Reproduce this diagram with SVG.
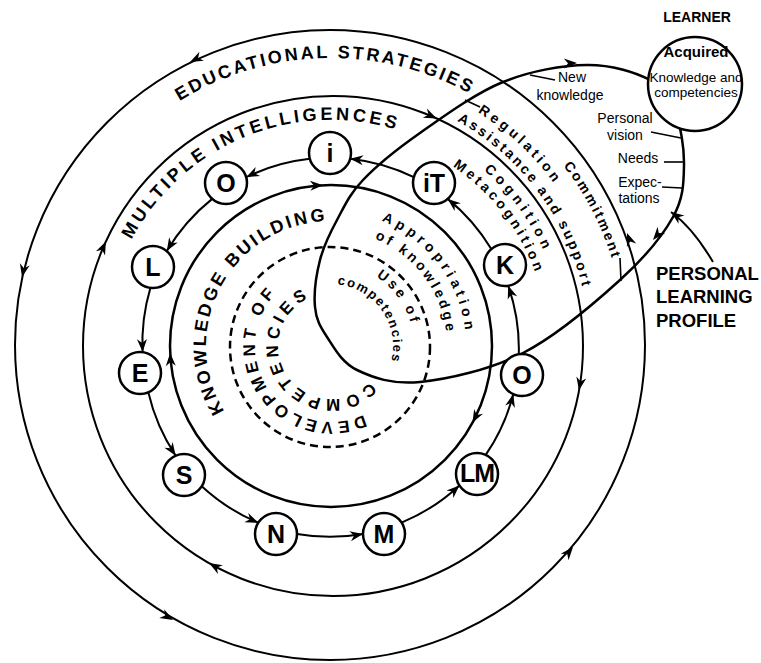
<svg xmlns="http://www.w3.org/2000/svg" xmlns:xlink="http://www.w3.org/1999/xlink" width="761" height="663" viewBox="0 0 761 663">
<style>
.ln{fill:none;stroke:#000;stroke-width:2}
.el{fill:none;stroke:#000;stroke-width:2.5}
.ds{fill:none;stroke:#000;stroke-width:2.5;stroke-dasharray:8 5}
.cn{fill:none;stroke:#000;stroke-width:2;marker-end:url(#m)}
.ld{fill:none;stroke:#000;stroke-width:1.6}
.nd{fill:#fff;stroke:#000;stroke-width:2.5}
.nl{font-family:"Liberation Sans",Arial,sans-serif;font-weight:bold;font-size:25px;text-anchor:middle}
.t{font-family:"Liberation Sans",Arial,sans-serif;fill:#000}
.b{font-weight:bold}
.big{font-size:18px;font-weight:bold}
.mid{font-size:14px;font-weight:bold}
.sm{font-size:14px}
.lc{font-size:13.5px}
.c{text-anchor:middle}
</style>
<defs>
<path id="ah" d="M0,0 L-13,-5 L-9,0 L-13,5 Z"/>
<marker id="m" viewBox="-14 -6 15 12" refX="0" refY="0" markerWidth="15" markerHeight="12" markerUnits="userSpaceOnUse" orient="auto"><path d="M0,0 L-13,-5 L-9,0 L-13,5 Z"/></marker>
<path id="r288" d="M187,595.4 A288,288 0 1 1 475,595.4"/>
<path id="r226" d="M218,541.7 A226,226 0 1 1 444,541.7"/>
<path id="r125" d="M268.5,454.25 A125,125 0 1 1 393.5,454.25"/>
<path id="r76" d="M293,411.8 A76,76 0 1 1 369,411.8"/>
<path id="r53" d="M304.5,391.9 A53,53 0 1 1 357.5,391.9"/>
<path id="r135" d="M263.5,462.9 A135,135 0 1 1 398.5,462.9"/>
<path id="r116" d="M273,446.5 A116,116 0 1 1 389,446.5"/>
<path id="r83" d="M289.5,417.9 A83,83 0 1 1 372.5,417.9"/>
<path id="r62" d="M300,399.7 A62,62 0 1 1 362,399.7"/>
<path id="r276" d="M193,585 A276,276 0 1 1 469,585"/>
<path id="r258" d="M202,569.4 A258,258 0 1 1 460,569.4"/>
<path id="r233" d="M214.5,547.8 A233,233 0 1 1 447.5,547.8"/>
<path id="r217" d="M222.5,533.9 A217,217 0 1 1 439.5,533.9"/>
<path id="r294" d="M184,600.6 A294,294 0 1 1 478,600.6"/>
</defs>
<rect width="761" height="663" fill="#fff"/>

<g id="rings">
<circle id="educational-strategies-ring" class="ln" cx="330" cy="345" r="315"/>
<circle id="multiple-intelligences-ring" class="ln" cx="333" cy="346" r="250"/>
<circle id="knowledge-building-ring" class="el" cx="331" cy="346" r="161"/>
<circle id="competencies-ring" class="ds" cx="330" cy="347" r="100"/>
<path id="personal-learning-profile" class="el" d="M315,307 C313.8,294.2 316.3,274.5 320,260 C323.7,245.5 329.8,233.3 337,220 C344.2,206.7 349.2,194.5 363,180 C376.8,165.5 396.7,149.3 420,133 C443.3,116.7 475.2,93.3 503,82 C530.8,70.7 562.5,65.3 587,65 C611.5,64.7 635.3,72.2 650,80 C664.7,87.8 669.3,97.8 675,112 C680.7,126.2 684.3,147.5 684,165 C683.7,182.5 683.7,197.8 673,217 C662.3,236.2 645,257.3 620,280 C595,302.7 556.3,336 523,353 C489.7,370 447.7,379.2 420,382 C392.3,384.8 372.5,377.5 357,370 C341.5,362.5 334,347.5 327,337 C320,326.5 316.2,319.8 315,307 Z"/>
<use href="#ah" transform="translate(190,62) rotate(153.7)"/>
<use href="#ah" transform="translate(22,277) rotate(102.5)"/>
<use href="#ah" transform="translate(173,620) rotate(29.7)"/>
<use href="#ah" transform="translate(573,547) rotate(-50.3)"/>
<use href="#ah" transform="translate(627,233) rotate(-110.7)"/>
<use href="#ah" transform="translate(105.9,241.5) rotate(-65.3)"/>
<use href="#ah" transform="translate(209.1,563.1) rotate(209.7)"/>
<use href="#ah" transform="translate(579,390.3) rotate(100.2)"/>
<use href="#ah" transform="translate(436.7,118.5) rotate(24.5)"/>
<use href="#ah" transform="translate(323.1,185.2) rotate(-2.8)"/>
<use href="#ah" transform="translate(170.2,353) rotate(267.5)"/>
<use href="#ah" transform="translate(472.4,422.8) rotate(118.5)"/>
<use href="#ah" transform="translate(577,63) rotate(-2)"/>
<use href="#ah" transform="translate(653,240) rotate(130)"/>
</g>

<g id="connectors">
<path class="cn" d="M413.8,177.2 A193,193 0 0 0 350.2,158.8"/>
<path class="cn" d="M309.8,158.8 A193,193 0 0 0 246.2,177.2"/>
<path class="cn" d="M212.2,198.9 A193,193 0 0 0 166.8,251.1"/>
<path class="cn" d="M150.4,287.9 A193,193 0 0 0 142.6,352.1"/>
<path class="cn" d="M148.3,392.3 A193,193 0 0 0 175.7,455.7"/>
<path class="cn" d="M201.7,486.3 A193,193 0 0 0 258.3,522.7"/>
<path class="cn" d="M297,534 A193,193 0 0 0 363,534"/>
<path class="cn" d="M401.6,522.6 A193,193 0 0 0 459.4,485.4"/>
<path class="cn" d="M485.7,454.9 A193,193 0 0 0 513.3,394.1"/>
<path class="cn" d="M518.8,354.3 A193,193 0 0 0 508.2,285.7"/>
<path class="cn" d="M491.3,249.1 A193,193 0 0 0 447.7,198.9"/>
<path class="cn" d="M713,262 Q693,228 671,212"/>
<path class="ld" d="M530,75 L555,80"/>
<path class="ld" d="M465,100 L480,107"/>
<path class="ld" d="M651,132 L681,138"/>
<path class="ld" d="M664,162 L684,162"/>
<path class="ld" d="M662,187 L682,188"/>
<path class="ld" d="M620,258 L621,281"/>
</g>

<g id="ring-labels" class="t">
<text class="big" letter-spacing="2.6" transform="rotate(-1.3,331,346)"><textPath href="#r288" startOffset="50%" text-anchor="middle">EDUCATIONAL STRATEGIES</textPath></text>
<text class="big" letter-spacing="3.4" transform="rotate(-22.3,331,346)"><textPath href="#r226" startOffset="50%" text-anchor="middle">MULTIPLE INTELLIGENCES</textPath></text>
<text class="big" letter-spacing="2.8" transform="rotate(-61.5,331,346)"><textPath href="#r125" startOffset="50%" text-anchor="middle">KNOWLEDGE BUILDING</textPath></text>
<text class="b" font-size="17" letter-spacing="4" transform="rotate(-125,331,346)"><textPath href="#r76" startOffset="50%" text-anchor="middle">DEVELOPMENT OF</textPath></text>
<text class="b" font-size="17" letter-spacing="4.5" transform="rotate(-124.5,331,346)"><textPath href="#r53" startOffset="50%" text-anchor="middle">COMPETENCIES</textPath></text>
<text class="mid" letter-spacing="4.3" transform="rotate(53.5,331,346)"><textPath href="#r135" startOffset="50%" text-anchor="middle">Appropriation</textPath></text>
<text class="mid" letter-spacing="3" transform="rotate(53.2,331,346)"><textPath href="#r116" startOffset="50%" text-anchor="middle">of knowledge</textPath></text>
<text class="mid" letter-spacing="3.2" transform="rotate(54.5,331,346)"><textPath href="#r83" startOffset="50%" text-anchor="middle">Use of</textPath></text>
<text class="b" font-size="13" letter-spacing="1.7" transform="rotate(55.5,331,346)"><textPath href="#r62" startOffset="50%" text-anchor="middle">competencies</textPath></text>
<text class="mid" letter-spacing="3.5" transform="rotate(43.25,331,346)"><textPath href="#r276" startOffset="50%" text-anchor="middle">Regulation</textPath></text>
<text class="mid" letter-spacing="2.6" transform="rotate(53.25,331,346)"><textPath href="#r258" startOffset="50%" text-anchor="middle">Assistance and support</textPath></text>
<text class="mid" letter-spacing="4.3" transform="rotate(53.75,331,346)"><textPath href="#r233" startOffset="50%" text-anchor="middle">Cognition</textPath></text>
<text class="mid" letter-spacing="3.4" transform="rotate(52.5,331,346)"><textPath href="#r217" startOffset="50%" text-anchor="middle">Metacognition</textPath></text>
<text class="mid" letter-spacing="2.1" transform="rotate(62.6,331,346)"><textPath href="#r294" startOffset="50%" text-anchor="middle">Commitment</textPath></text>
</g>

<g id="node-iT"><circle class="nd" cx="434" cy="183" r="21"/><text class="nl" x="434" y="192">iT</text></g>
<g id="node-i"><circle class="nd" cx="330" cy="153" r="21"/><text class="nl" x="330" y="162">i</text></g>
<g id="node-O1"><circle class="nd" cx="226" cy="183" r="21"/><text class="nl" x="226" y="192">O</text></g>
<g id="node-L"><circle class="nd" cx="153" cy="267" r="21"/><text class="nl" x="153" y="276">L</text></g>
<g id="node-E"><circle class="nd" cx="140" cy="373" r="21"/><text class="nl" x="140" y="382">E</text></g>
<g id="node-S"><circle class="nd" cx="184" cy="475" r="21"/><text class="nl" x="184" y="484">S</text></g>
<g id="node-N"><circle class="nd" cx="276" cy="534" r="21"/><text class="nl" x="276" y="543">N</text></g>
<g id="node-M"><circle class="nd" cx="384" cy="534" r="21"/><text class="nl" x="384" y="543">M</text></g>
<g id="node-LM"><circle class="nd" cx="477" cy="474" r="21"/><text class="nl" x="477" y="482" font-size="22" letter-spacing="-1">LM</text></g>
<g id="node-O2"><circle class="nd" cx="522" cy="375" r="21"/><text class="nl" x="522" y="384">O</text></g>
<g id="node-K"><circle class="nd" cx="505" cy="265" r="21"/><text class="nl" x="505" y="274">K</text></g>

<g id="learner">
<circle class="nd" cx="695" cy="84" r="47"/>
<text class="t b c" x="697" y="22" font-size="14">LEARNER</text>
<text class="t b c" x="696" y="57" font-size="15">Acquired</text>
<text class="t c lc" x="696" y="82">Knowledge and</text>
<text class="t c lc" x="696" y="97">competencies</text>
</g>

<g id="profile-labels" class="t sm">
<text x="572" y="82" class="c">New</text>
<text x="570" y="100" class="c">knowledge</text>
<text x="625" y="123" class="c">Personal</text>
<text x="625" y="140" class="c">vision</text>
<text x="638" y="163" class="c">Needs</text>
<text x="640" y="187" class="c">Expec-</text>
<text x="639" y="203" class="c">tations</text>
</g>

<g id="personal-learning-profile-label" class="t b" font-size="18.5">
<text x="656" y="280">PERSONAL</text>
<text x="656" y="303">LEARNING</text>
<text x="656" y="327">PROFILE</text>
</g>
</svg>
